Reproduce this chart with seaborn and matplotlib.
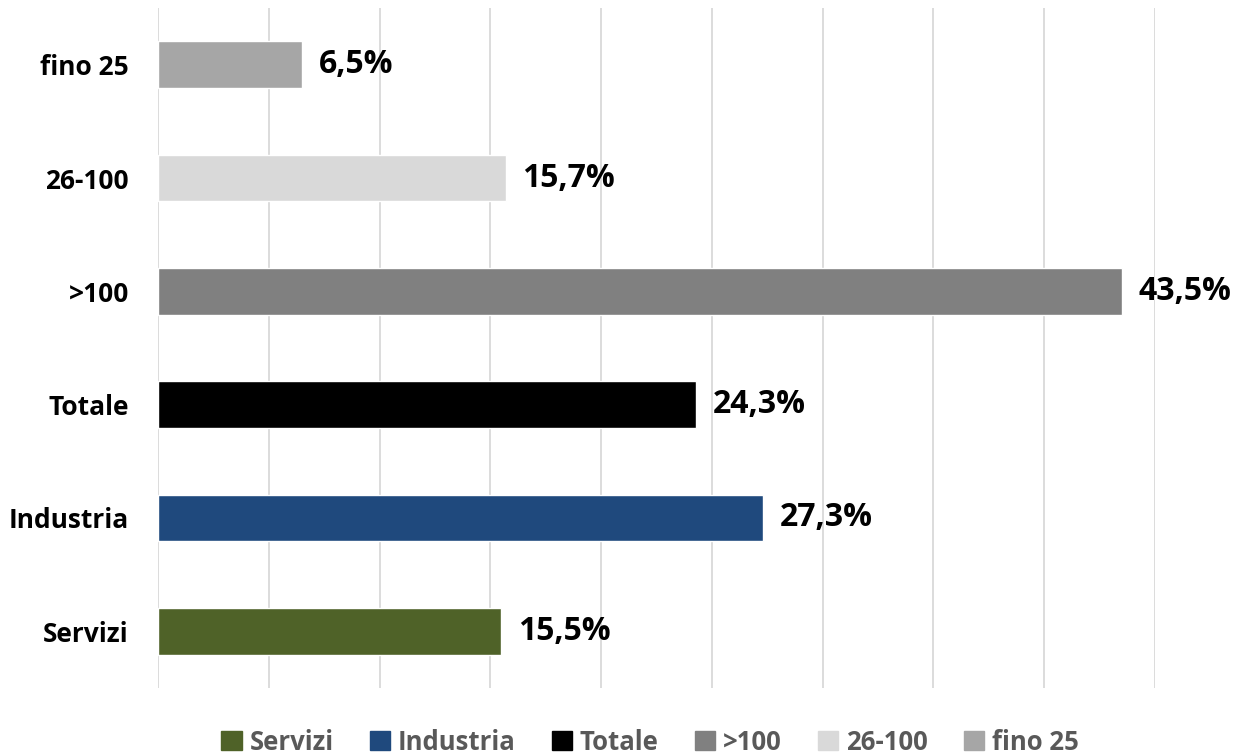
import matplotlib
matplotlib.use('Agg')
import matplotlib.pyplot as plt
import matplotlib.patches as mpatches
import seaborn as sns
import pandas as pd

categories = ["fino 25", "26-100", ">100", "Totale", "Industria", "Servizi"]
values = [6.5, 15.7, 43.5, 24.3, 27.3, 15.5]
colors = ["#A6A6A6", "#D9D9D9", "#808080", "#000000", "#1F497D", "#4F6228"]
legend_order = ["Servizi", "Industria", "Totale", ">100", "26-100", "fino 25"]

df = pd.DataFrame({"cat": categories, "val": values})
palette = dict(zip(categories, colors))

sns.set_style("white")
plt.rcParams['font.family'] = ['Open Sans', 'DejaVu Sans']

fig = plt.figure(figsize=(12.53, 7.55), dpi=100)
ax = fig.add_axes([158 / 1253, 1 - 688 / 755, (1155 - 158) / 1253, 680 / 755])

sns.barplot(data=df, y="cat", x="val", hue="cat", palette=palette,
            order=categories, hue_order=categories, dodge=False,
            width=0.41, saturation=1, legend=False, ax=ax, orient="h")

ax.set_xlim(0, 45)
ax.set_ylim(5.5, -0.5)
ax.set_xticks(range(0, 50, 5))
ax.set_xticklabels([])
ax.grid(axis="x", color="#D9D9D9", lw=1.3)
ax.set_axisbelow(True)
for s in ax.spines.values():
    s.set_visible(False)
ax.tick_params(axis="both", length=0)
ax.set_xlabel("")
ax.set_ylabel("")
ax.set_yticks(range(len(categories)))
ax.set_yticklabels(categories, fontsize=19, fontweight="bold", color="black")
ax.tick_params(axis="y", pad=21)

for i, v in enumerate(values):
    ax.text(v + 0.75, i, f"{v:.1f}%".replace(".", ","), va="center", ha="left",
            fontsize=23, fontweight="bold", color="black")

handles = [mpatches.Patch(color=palette[c], label=c) for c in legend_order]
fig.legend(handles=handles, loc="center", bbox_to_anchor=(650 / 1253, 1 - 742 / 755),
           ncol=6, frameon=False, handlelength=0.8, handleheight=0.8,
           handletextpad=0.3, columnspacing=1.4,
           prop={"size": 18.5, "weight": "bold"}, labelcolor="#595959")

fig.savefig("out.png", dpi=100)
